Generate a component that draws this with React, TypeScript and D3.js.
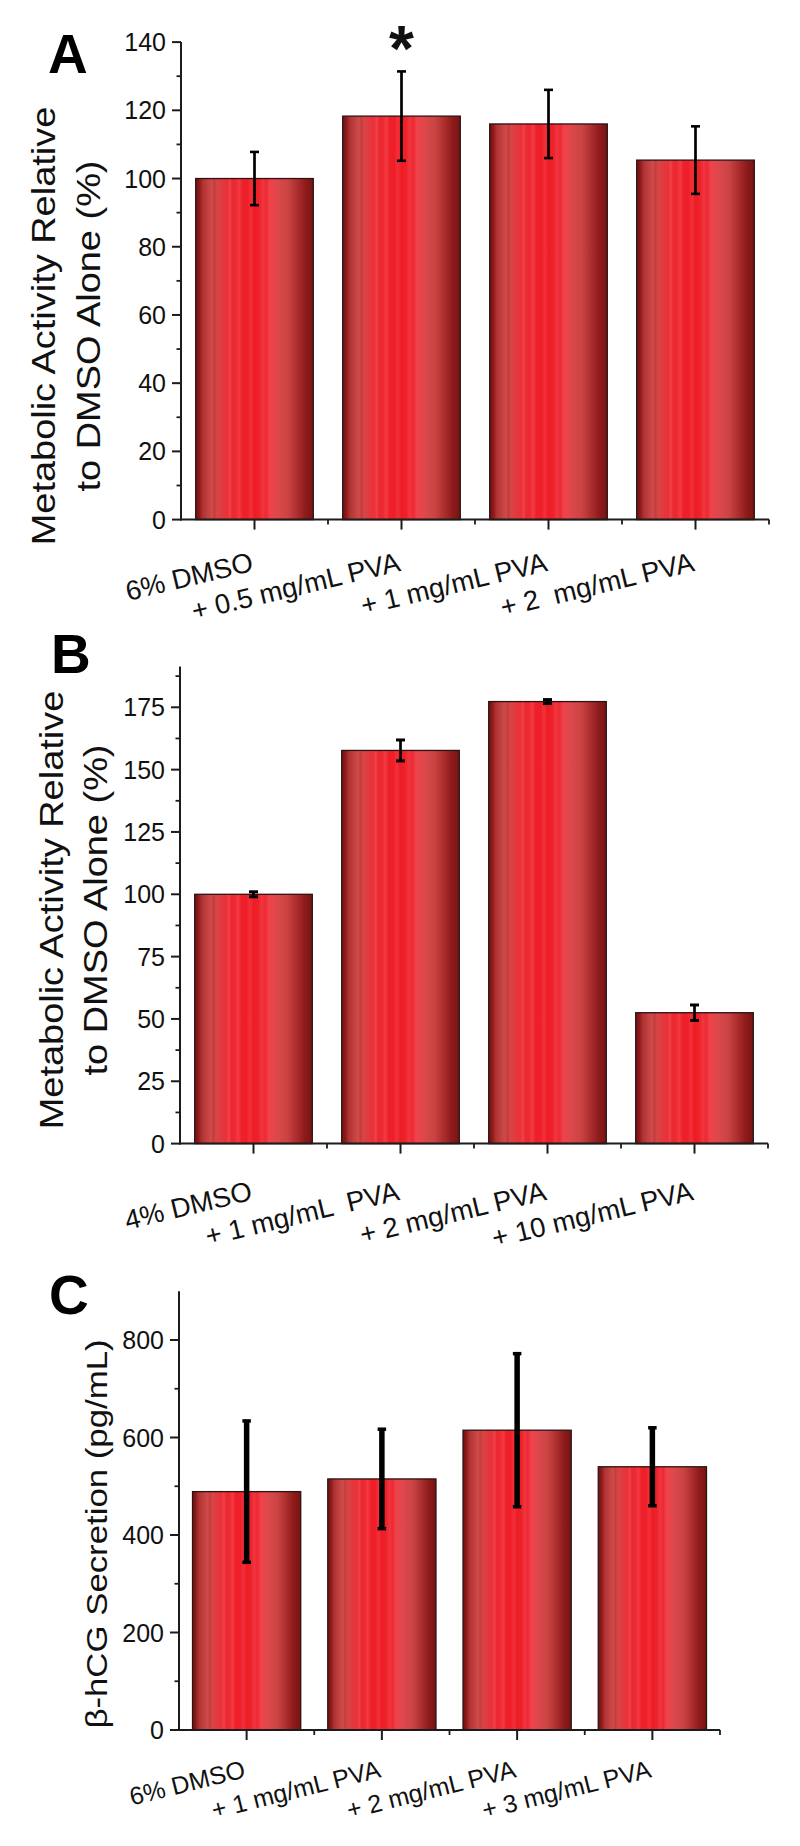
import React from "react";
import * as d3 from "d3";

// ---------- data ----------
const categoriesA = ["6% DMSO", "+ 0.5 mg/mL PVA", "+ 1 mg/mL PVA", "+ 2  mg/mL PVA"];
const valuesA = [100, 118.3, 116, 105.4];
const errorsA = [7.8, 13.1, 10, 9.9];
const ticksA = [0, 20, 40, 60, 80, 100, 120, 140];
const minorTicksA = [10, 30, 50, 70, 90, 110, 130];

const categoriesB = ["4% DMSO", "+ 1 mg/mL  PVA", "+ 2 mg/mL PVA", "+ 10 mg/mL PVA"];
const valuesB = [100, 157.7, 177.3, 52.5];
const errorsB = [1, 4.2, 0.8, 3.1];
const ticksB = [0, 25, 50, 75, 100, 125, 150, 175];
const minorTicksB = [12.5, 37.5, 62.5, 87.5, 112.5, 137.5, 162.5, 187.5];

const categoriesC = ["6% DMSO", "+ 1 mg/mL PVA", "+ 2 mg/mL PVA", "+ 3 mg/mL PVA"];
const valuesC = [489, 515, 615, 540];
const errorsC = [145, 102, 157, 80];
const ticksC = [0, 200, 400, 600, 800];
const minorTicksC = [100, 300, 500, 700];

const yLabelAB = ["Metabolic Activity Relative", "to DMSO Alone (%)"];
const yLabelC = ["β-hCG Secretion (pg/mL)"];

const FONT = "'Liberation Sans', Arial, Helvetica, sans-serif";

const gradStops: [number, string][] = [
  [0, "#781313"], [2.5, "#841717"], [4, "#9a2121"], [6, "#ae3333"], [9, "#bc3c3c"],
  [12, "#c84545"], [14, "#cf4b4b"], [16, "#c33c3c"], [18, "#d64646"], [21, "#dd3e42"],
  [24, "#e4363c"], [27, "#ec3038"], [29, "#f0424a"], [31, "#e82a32"], [34, "#ee2830"],
  [37, "#f33a42"], [40, "#ec2029"], [44, "#ef1f28"], [47, "#f2303a"], [50, "#ed1c25"],
  [54, "#ee2229"], [57, "#f13540"], [60, "#ec2a33"], [63, "#f0424a"], [66, "#e8454b"],
  [70, "#dc484d"], [74, "#d24646"], [78, "#cc4444"], [81, "#c23d3d"], [84, "#b53434"],
  [87, "#aa2c2c"], [90, "#9e2424"], [93, "#8f1c1c"], [96, "#851818"], [100, "#781313"],
];

type PanelProps = {
  letter: string;
  letterX: number;
  letterY: number;
  cats: string[];
  values: number[];
  errors: number[];
  ticks: number[];
  minor: number[];
  x0: number;
  x1: number;
  bottom: number;
  refVal: number;
  refPx: number;
  yMax: number;
  tickFont: number;
  labelFont: number;
  labelOffset: number;
  labelAngle: number;
  yLabel: string[];
  yLabelX: number[];
  yLabelCY: number;
  yLabelFont: number;
  yStretch: number;
  stemW: number;
  capW: number;
  capT: number;
  star?: number;
};

function Panel(p: PanelProps) {
  const x = d3.scaleBand<string>().domain(p.cats).range([p.x0, p.x1]).paddingInner(0.2).paddingOuter(0.1);
  const pxPerUnit = (p.bottom - p.refPx) / p.refVal;
  const top = p.bottom - pxPerUnit * p.yMax;
  const y = d3.scaleLinear().domain([0, p.yMax]).range([p.bottom, top]);
  const step = x.step();
  const bounds = p.cats.map((_, i) => p.x0 + step * (i + 1));
  const axisColor = "#1c1c1c";
  return (
    <g>
      {/* bars */}
      {p.cats.map((c, i) => (
        <rect
          key={"bar" + i}
          x={x(c)}
          y={y(p.values[i])}
          width={x.bandwidth()}
          height={y(0) - y(p.values[i])}
          fill="url(#barGrad)"
          stroke="#2a1414"
          strokeWidth={1.3}
        />
      ))}
      {/* error bars */}
      {p.cats.map((c, i) => {
        const cx = (x(c) as number) + x.bandwidth() / 2;
        const hi = y(p.values[i] + p.errors[i]);
        const lo = y(p.values[i] - p.errors[i]);
        return (
          <g key={"err" + i} stroke="#000">
            <line x1={cx} x2={cx} y1={hi} y2={lo} strokeWidth={p.stemW} />
            <line x1={cx - p.capW / 2} x2={cx + p.capW / 2} y1={hi} y2={hi} strokeWidth={p.capT} />
            <line x1={cx - p.capW / 2} x2={cx + p.capW / 2} y1={lo} y2={lo} strokeWidth={p.capT} />
          </g>
        );
      })}
      {p.star !== undefined && (
        <text
          x={(x(p.cats[p.star]) as number) + x.bandwidth() / 2}
          y={y(p.values[p.star] + p.errors[p.star])}
          textAnchor="middle"
          fontFamily={FONT}
          fontWeight="bold"
          fontSize={64}
          fill="#111"
        >
          *
        </text>
      )}
      {/* y axis */}
      <line x1={p.x0} x2={p.x0} y1={p.bottom + 1} y2={top} stroke={axisColor} strokeWidth={2} />
      {p.ticks.map((t) => (
        <g key={"yt" + t}>
          <line x1={p.x0 - 9} x2={p.x0} y1={y(t)} y2={y(t)} stroke={axisColor} strokeWidth={2} />
          <text
            x={p.x0 - 15}
            y={y(t)}
            dy="0.36em"
            textAnchor="end"
            fontFamily={FONT}
            fontSize={p.tickFont}
            fill="#111"
          >
            {t}
          </text>
        </g>
      ))}
      {p.minor.map((t) => (
        <line key={"ym" + t} x1={p.x0 - 4.5} x2={p.x0} y1={y(t)} y2={y(t)} stroke={axisColor} strokeWidth={1.8} />
      ))}
      {/* x axis */}
      <line x1={p.x0 - 1} x2={p.x1} y1={p.bottom} y2={p.bottom} stroke={axisColor} strokeWidth={2} />
      {p.cats.map((c, i) => {
        const cx = (x(c) as number) + x.bandwidth() / 2;
        return (
          <g key={"xt" + i}>
            <line x1={cx} x2={cx} y1={p.bottom} y2={p.bottom + 10} stroke={axisColor} strokeWidth={2} />
            <text
              transform={`translate(${cx},${p.bottom + p.labelOffset}) rotate(${p.labelAngle})`}
              textAnchor="end"
              fontFamily={FONT}
              fontSize={p.labelFont}
              fill="#111"
              style={{ whiteSpace: "pre" }}
            >
              {c}
            </text>
          </g>
        );
      })}
      {bounds.map((bx, i) => (
        <line key={"xm" + i} x1={bx} x2={bx} y1={p.bottom} y2={p.bottom + 5} stroke={axisColor} strokeWidth={1.8} />
      ))}
      {/* y label */}
      {p.yLabel.map((line, i) => (
        <g key={"yl" + i} transform={`translate(${p.yLabelX[i]},${p.yLabelCY}) scale(1,${p.yStretch}) rotate(-90)`}>
          <text textAnchor="middle" fontFamily={FONT} fontSize={p.yLabelFont} fill="#111">
            {line}
          </text>
        </g>
      ))}
      {/* panel letter */}
      <text x={p.letterX} y={p.letterY} fontFamily={FONT} fontWeight="bold" fontSize={55} fill="#000">
        {p.letter}
      </text>
    </g>
  );
}

export default function App() {
  return (
    <div style={{ position: "absolute", left: 0, top: 0, width: 800, height: 1846, background: "#fff" }}>
      <svg width={800} height={1846} viewBox="0 0 800 1846" style={{ display: "block" }}>
        <defs>
          <linearGradient id="barGrad" x1="0" x2="1" y1="0" y2="0">
            {gradStops.map(([o, c], i) => (
              <stop key={i} offset={o + "%"} stopColor={c} />
            ))}
          </linearGradient>
        </defs>
        <rect x={0} y={0} width={800} height={1846} fill="#fff" />
        <Panel
          letter="A"
          letterX={48}
          letterY={73}
          cats={categoriesA}
          values={valuesA}
          errors={errorsA}
          ticks={ticksA}
          minor={minorTicksA}
          x0={181}
          x1={769}
          bottom={519.6}
          refVal={140}
          refPx={42.1}
          yMax={140}
          tickFont={25}
          labelFont={27.5}
          labelOffset={51}
          labelAngle={-13.5}
          yLabel={yLabelAB}
          yLabelX={[55, 100]}
          yLabelCY={326}
          yLabelFont={33}
          yStretch={1.15}
          stemW={2.7}
          capW={9}
          capT={2.6}
          star={1}
        />
        <Panel
          letter="B"
          letterX={51}
          letterY={673}
          cats={categoriesB}
          values={valuesB}
          errors={errorsB}
          ticks={ticksB}
          minor={minorTicksB}
          x0={180}
          x1={768}
          bottom={1143.6}
          refVal={175}
          refPx={707.3}
          yMax={191.4}
          tickFont={25}
          labelFont={27.5}
          labelOffset={56}
          labelAngle={-13.5}
          yLabel={yLabelAB}
          yLabelX={[63, 107]}
          yLabelCY={910}
          yLabelFont={33}
          yStretch={1.15}
          stemW={2.7}
          capW={9}
          capT={3}
        />
        <Panel
          letter="C"
          letterX={49}
          letterY={1314}
          cats={categoriesC}
          values={valuesC}
          errors={errorsC}
          ticks={ticksC}
          minor={minorTicksC}
          x0={179}
          x1={720}
          bottom={1730}
          refVal={800}
          refPx={1340}
          yMax={900}
          tickFont={25}
          labelFont={25}
          labelOffset={47}
          labelAngle={-14}
          yLabel={yLabelC}
          yLabelX={[107]}
          yLabelCY={1534}
          yLabelFont={30}
          yStretch={1.16}
          stemW={5.5}
          capW={8.5}
          capT={3.5}
        />
      </svg>
    </div>
  );
}
